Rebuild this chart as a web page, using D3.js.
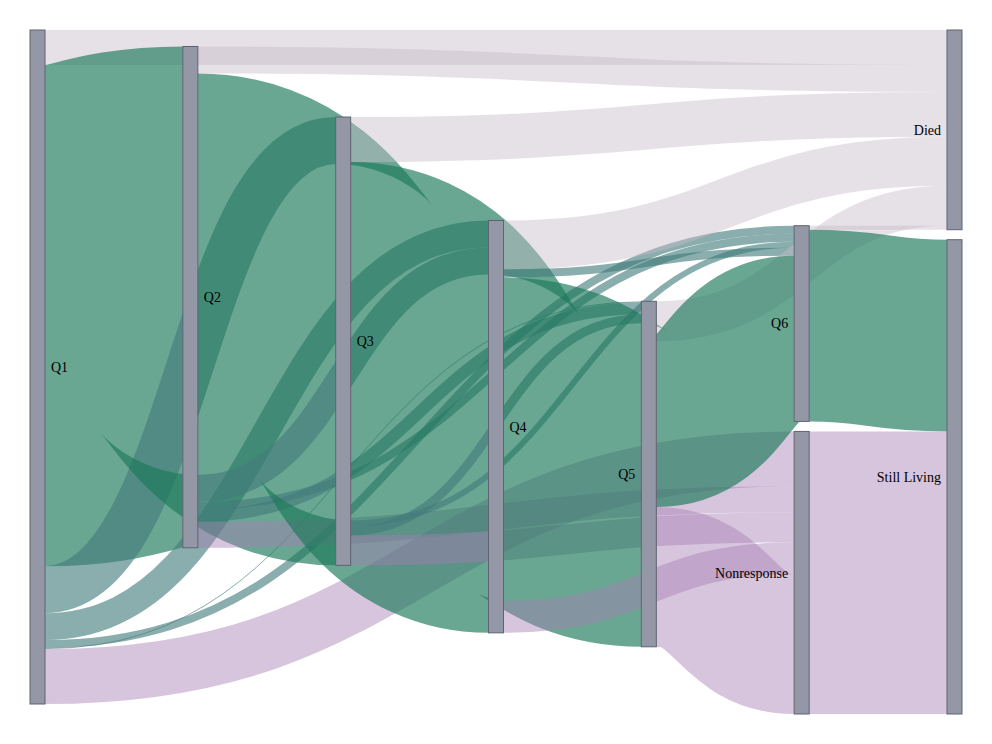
<!DOCTYPE html>
<html>
<head>
<meta charset="utf-8">
<script src="https://d3js.org/d3.v7.min.js"></script>
<style>
  body { margin: 0; background: #fff; }
  text { font-family: "Liberation Serif", "DejaVu Serif", serif; font-size: 14px; }
</style>
</head>
<body>
<svg id="chart"></svg>
<script>
var width = 992, height = 744;

// data
var nodeNames = ["Q1", "Q2", "Q3", "Q4", "Q5", "Q6", "Nonresponse", "Died", "Still Living"];
var linkSources = ["Q1","Q1","Q1","Q1","Q1","Q1","Q1",
                   "Q2","Q2","Q2","Q2","Q2","Q2",
                   "Q3","Q3","Q3","Q3","Q3",
                   "Q4","Q4","Q4","Q4",
                   "Q5","Q5","Q5",
                   "Q6","Q6",
                   "Nonresponse"];
var linkTargets = ["Died","Q2","Q3","Q4","Q5","Q6","Nonresponse",
                   "Died","Q3","Q4","Q5","Q6","Nonresponse",
                   "Died","Q4","Q5","Q6","Nonresponse",
                   "Died","Q5","Q6","Nonresponse",
                   "Died","Q6","Nonresponse",
                   "Died","Still Living",
                   "Still Living"];
var linkValues = [35, 502, 47, 27, 1, 8, 55,
                  27, 402, 27, 12, 8, 26,
                  45, 359, 9, 6, 30,
                  49, 324, 8, 32,
                  40, 166, 140,
                  4, 192,
                  283];

var margin = { top: 30, bottom: 30, left: 30, right: 30 };
var nodeWidth = 15, nodePadding = 10, iterations = 6;

// ---- small sankey layout (port of d3-sankey, left aligned) ----
var nodes = nodeNames.map(function(n, i) { return { name: n, index: i, sourceLinks: [], targetLinks: [] }; });
var byName = {};
nodes.forEach(function(n) { byName[n.name] = n; });
var links = linkValues.map(function(v, i) {
  var l = { source: byName[linkSources[i]], target: byName[linkTargets[i]], value: v, index: i };
  l.source.sourceLinks.push(l);
  l.target.targetLinks.push(l);
  return l;
});
nodes.forEach(function(n) {
  n.value = Math.max(d3.sum(n.sourceLinks, function(l) { return l.value; }),
                     d3.sum(n.targetLinks, function(l) { return l.value; }));
});

// depths
var current = new Set(nodes), next = new Set(), depth = 0;
while (current.size) {
  current.forEach(function(n) {
    n.depth = depth;
    n.sourceLinks.forEach(function(l) { next.add(l.target); });
  });
  depth++; current = next; next = new Set();
}
var nLayers = d3.max(nodes, function(n) { return n.depth; }) + 1;
var xScale = d3.scaleLinear().domain([0, nLayers - 1]).range([margin.left, width - margin.right - nodeWidth]);
var columns = d3.range(nLayers).map(function() { return []; });
nodes.forEach(function(n) {
  n.layer = n.depth;
  n.x0 = xScale(n.layer);
  n.x1 = n.x0 + nodeWidth;
  columns[n.layer].push(n);
});

var y0 = margin.top, y1 = height - margin.bottom, py = nodePadding;
var ky = d3.min(columns, function(c) { return (y1 - y0 - (c.length - 1) * py) / d3.sum(c, function(n) { return n.value; }); });

function ascendingBreadth(a, b) { return a.y0 - b.y0; }
function ascSource(a, b) { return ascendingBreadth(a.source, b.source) || a.index - b.index; }
function ascTarget(a, b) { return ascendingBreadth(a.target, b.target) || a.index - b.index; }
function reorderLinks() {
  nodes.forEach(function(n) { n.sourceLinks.sort(ascTarget); n.targetLinks.sort(ascSource); });
}
function reorderNodeLinks(n) {
  n.targetLinks.forEach(function(l) { l.source.sourceLinks.sort(ascTarget); });
  n.sourceLinks.forEach(function(l) { l.target.targetLinks.sort(ascSource); });
}

columns.forEach(function(c) {
  var y = y0;
  c.forEach(function(n) {
    n.y0 = y; n.y1 = y + n.value * ky; y = n.y1 + py;
    n.sourceLinks.forEach(function(l) { l.width = l.value * ky; });
  });
  y = (y1 - y + py) / (c.length + 1);
  c.forEach(function(n, i) { n.y0 += y * (i + 1); n.y1 += y * (i + 1); });
});
reorderLinks();

function targetTop(source, target) {
  var y = source.y0 - (source.sourceLinks.length - 1) * py / 2;
  for (var i = 0; i < source.sourceLinks.length; i++) { var l = source.sourceLinks[i]; if (l.target === target) break; y += l.width + py; }
  for (var j = 0; j < target.targetLinks.length; j++) { var m = target.targetLinks[j]; if (m.source === source) break; y -= m.width; }
  return y;
}
function sourceTop(source, target) {
  var y = target.y0 - (target.targetLinks.length - 1) * py / 2;
  for (var i = 0; i < target.targetLinks.length; i++) { var l = target.targetLinks[i]; if (l.source === source) break; y += l.width + py; }
  for (var j = 0; j < source.sourceLinks.length; j++) { var m = source.sourceLinks[j]; if (m.target === target) break; y -= m.width; }
  return y;
}
function topToBottom(c, y, i, alpha) {
  for (; i < c.length; ++i) {
    var n = c[i], dy = (y - n.y0) * alpha;
    if (dy > 1e-6) { n.y0 += dy; n.y1 += dy; }
    y = n.y1 + py;
  }
}
function bottomToTop(c, y, i, alpha) {
  for (; i >= 0; --i) {
    var n = c[i], dy = (n.y1 - y) * alpha;
    if (dy > 1e-6) { n.y0 -= dy; n.y1 -= dy; }
    y = n.y0 - py;
  }
}
function resolveCollisions(c, alpha) {
  var i = c.length >> 1, s = c[i];
  bottomToTop(c, s.y0 - py, i - 1, alpha);
  topToBottom(c, s.y1 + py, i + 1, alpha);
  bottomToTop(c, y1, c.length - 1, alpha);
  topToBottom(c, y0, 0, alpha);
}
function relaxLeftToRight(alpha, beta) {
  for (var i = 1; i < columns.length; i++) {
    columns[i].forEach(function(t) {
      var y = 0, w = 0;
      t.targetLinks.forEach(function(l) {
        var v = l.value * (t.layer - l.source.layer);
        y += targetTop(l.source, t) * v; w += v;
      });
      if (!(w > 0)) return;
      var dy = (y / w - t.y0) * alpha;
      t.y0 += dy; t.y1 += dy;
      reorderNodeLinks(t);
    });
    columns[i].sort(ascendingBreadth);
    resolveCollisions(columns[i], beta);
  }
}
function relaxRightToLeft(alpha, beta) {
  for (var i = columns.length - 2; i >= 0; i--) {
    columns[i].forEach(function(s) {
      var y = 0, w = 0;
      s.sourceLinks.forEach(function(l) {
        var v = l.value * (l.target.layer - s.layer);
        y += sourceTop(s, l.target) * v; w += v;
      });
      if (!(w > 0)) return;
      var dy = (y / w - s.y0) * alpha;
      s.y0 += dy; s.y1 += dy;
      reorderNodeLinks(s);
    });
    columns[i].sort(ascendingBreadth);
    resolveCollisions(columns[i], beta);
  }
}
for (var it = 0; it < iterations; it++) {
  var alpha = Math.pow(0.99, it);
  var beta = Math.max(1 - alpha, (it + 1) / iterations);
  relaxRightToLeft(alpha, beta);
  relaxLeftToRight(alpha, beta);
}
nodes.forEach(function(n) {
  var a = n.y0, b = a;
  n.sourceLinks.forEach(function(l) { l.y0 = a + l.width / 2; a += l.width; });
  n.targetLinks.forEach(function(l) { l.y1 = b + l.width / 2; b += l.width; });
});

// ---- drawing ----
function linkColor(l) {
  if (l.target.name === "Died") return ["#c8bcc8", 0.45];
  if (l.target.name === "Nonresponse" || l.source.name === "Nonresponse") return ["#a77fb3", 0.45];
  if (l.target.name === "Still Living" || l.target.layer - l.source.layer === 1) return ["#1b7a5a", 0.66];
  return ["#427a7a", 0.62];
}

var svg = d3.select("#chart").attr("width", width).attr("height", height);

svg.append("g")
  .attr("fill", "none")
  .selectAll("path")
  .data(links)
  .enter()
  .append("path")
  .attr("d", d3.linkHorizontal()
    .source(function(d) { return [d.source.x1, d.y0]; })
    .target(function(d) { return [d.target.x0, d.y1]; }))
  .attr("stroke", function(d) { return linkColor(d)[0]; })
  .attr("stroke-opacity", function(d) { return linkColor(d)[1]; })
  .attr("stroke-width", function(d) { return Math.max(1, d.width); });

svg.append("g")
  .selectAll("rect")
  .data(nodes)
  .enter()
  .append("rect")
  .attr("x", function(d) { return d.x0; })
  .attr("y", function(d) { return d.y0; })
  .attr("width", function(d) { return d.x1 - d.x0; })
  .attr("height", function(d) { return d.y1 - d.y0; })
  .attr("fill", "#9498a6")
  .attr("stroke", "#5f6270");

svg.append("g")
  .selectAll("text")
  .data(nodes)
  .enter()
  .append("text")
  .attr("x", function(d) { return d.x0 < width / 2 ? d.x1 + 6 : d.x0 - 6; })
  .attr("y", function(d) { return (d.y0 + d.y1) / 2; })
  .attr("dy", "0.35em")
  .attr("text-anchor", function(d) { return d.x0 < width / 2 ? "start" : "end"; })
  .attr("fill", "#000")
  .text(function(d) { return d.name; });
</script>
</body>
</html>
